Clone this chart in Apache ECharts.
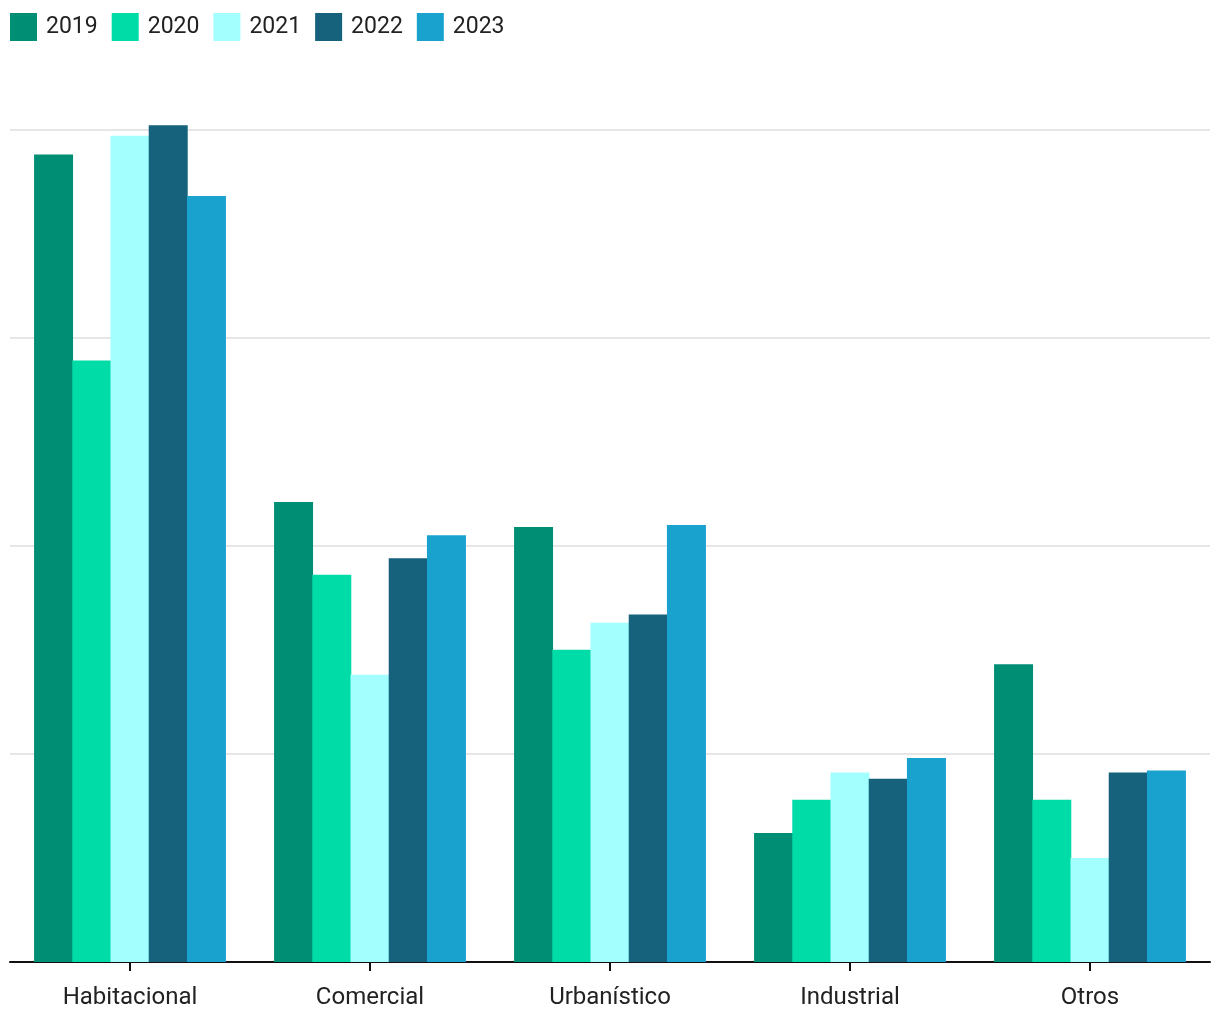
<!DOCTYPE html>
<html>
<head>
<meta charset="utf-8">
<script src="https://cdn.jsdelivr.net/npm/echarts@6/dist/echarts.min.js"></script>
<style>
html,body{margin:0;padding:0;background:#fff;}
#chart{width:1220px;height:1020px;}
</style>
</head>
<body>
<div id="chart"></div>
<script>
const categories = ['Habitacional', 'Comercial', 'Urbanístico', 'Industrial', 'Otros'];
const years = ['2019', '2020', '2021', '2022', '2023'];
const values2019 = [38.8, 22.1, 20.9, 6.2, 14.3];
const values2020 = [28.9, 18.6, 15.0, 7.8, 7.8];
const values2021 = [39.7, 13.8, 16.3, 9.1, 5.0];
const values2022 = [40.2, 19.4, 16.7, 8.8, 9.1];
const values2023 = [36.8, 20.5, 21.0, 9.8, 9.2];
const colors = ['#008f74', '#00dca8', '#a2fffe', '#16627d', '#1aa2cf'];

const allValues = [values2019, values2020, values2021, values2022, values2023];
const chart = echarts.init(document.getElementById('chart'), null, {renderer: 'canvas'});
chart.setOption({
  animation: false,
  color: colors,
  textStyle: {fontFamily: 'Roboto'},
  legend: {
    left: 10, top: 13, padding: 0,
    itemWidth: 27, itemHeight: 28, itemGap: 14,
    icon: 'rect',
    textStyle: {fontSize: 23, color: '#222', fontFamily: 'Roboto', padding: [0, 0, 0, 4]},
    data: years
  },
  grid: {left: 10, right: 10, top: 67, bottom: 58, containLabel: false},
  xAxis: {
    type: 'category',
    data: categories,
    axisLine: {show: true, lineStyle: {color: '#111', width: 2}},
    axisTick: {show: true, alignWithLabel: true, length: 9, lineStyle: {color: '#111', width: 2}},
    axisLabel: {fontSize: 24, color: '#222', margin: 24, fontFamily: 'Roboto'}
  },
  yAxis: {
    type: 'value',
    min: 0, max: 43, interval: 10,
    axisLabel: {show: false},
    axisLine: {show: false},
    axisTick: {show: false},
    splitLine: {show: true, showMaxLine: false, showMinLine: false, lineStyle: {color: '#e6e6e6', width: 2}}
  },
  series: years.map((y, i) => ({
    name: y,
    type: 'bar',
    data: allValues[i],
    barWidth: 39,
    barGap: '-2%',
    itemStyle: {color: colors[i]}
  }))
});
</script>
</body>
</html>
